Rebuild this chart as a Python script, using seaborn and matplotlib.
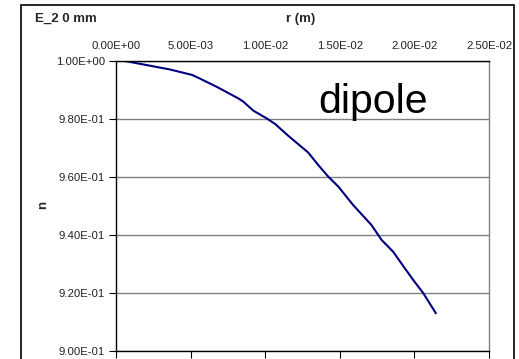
import matplotlib
matplotlib.use("Agg")
import matplotlib.pyplot as plt
import seaborn as sns
import pandas as pd
from matplotlib.patches import Rectangle
from matplotlib.ticker import FuncFormatter

r_m = [0.0006, 0.0036, 0.0051, 0.0056, 0.00675, 0.0082, 0.00853, 0.0092, 0.0101,
       0.01066, 0.01155, 0.01289, 0.01356, 0.01423, 0.0149, 0.0159, 0.01713,
       0.0178, 0.01858, 0.01925, 0.01992, 0.0206, 0.02144]
n_vals = [1.0, 0.9971, 0.9952, 0.9940, 0.9911, 0.9871, 0.9860, 0.9829, 0.9802,
          0.9783, 0.9742, 0.9684, 0.9641, 0.9601, 0.9567, 0.9503, 0.9434,
          0.9383, 0.9342, 0.9293, 0.9245, 0.9199, 0.9130]
x_ticks = [0.0, 0.005, 0.01, 0.015, 0.02, 0.025]
y_ticks = [0.90, 0.92, 0.94, 0.96, 0.98, 1.00]

sns.set_style("white")
plt.rcParams['font.family'] = ['Liberation Sans', 'DejaVu Sans']

W, H = 519, 359
fig = plt.figure(figsize=(W / 100, H / 100), dpi=100)
fig.patch.set_facecolor("white")

# outer chart border
fig.patches.append(Rectangle((21 / W, (H - 370) / H), (514 - 21) / W, 365 / H,
                             transform=fig.transFigure, fill=False,
                             edgecolor="black", linewidth=1.2, zorder=0))

ax = fig.add_axes([116 / W, (H - 351) / H, (489 - 116) / W, (351 - 61) / H])
df = pd.DataFrame({"r": r_m, "n": n_vals})
sns.lineplot(data=df, x="r", y="n", ax=ax, color="#000080", linewidth=1.5,
             sort=False, estimator=None)

ax.set_xlim(0, 0.025)
ax.set_ylim(0.90, 1.00)
ax.set_xticks(x_ticks)
ax.set_yticks(y_ticks)
fmt = FuncFormatter(lambda v, p: "%.2E" % v)
ax.xaxis.set_major_formatter(fmt)
ax.yaxis.set_major_formatter(fmt)
ax.tick_params(axis="x", bottom=True, top=False, labelbottom=False, labeltop=True,
               direction="out", length=5, width=0.8, labelsize=8.2, pad=2,
               color="black", labelcolor="#222222")
ax.tick_params(axis="y", left=True, direction="out", length=5, width=0.8,
               labelsize=8.2, pad=3, color="black", labelcolor="#222222")
ax.grid(axis="y", color="#808080", linewidth=1.0)
ax.grid(axis="x", visible=False)
for s in ["left", "bottom", "top"]:
    ax.spines[s].set_color("black")
    ax.spines[s].set_linewidth(1.0)
ax.spines["right"].set_color("#808080")
ax.spines["right"].set_linewidth(1.0)
ax.set_xlabel("")
ax.set_ylabel("")

ax.text((318 - 116) / 373, (351 - 113) / 290, "dipole", transform=ax.transAxes,
        fontsize=29.5, ha="left", va="baseline", color="black")

fig.text(35 / W, 1 - 19 / H, "E_2 0 mm", fontsize=9.5, fontweight="bold",
         ha="left", va="center")
fig.text(301 / W, 1 - 19 / H, "r (m)", fontsize=9.5, fontweight="bold",
         ha="center", va="center")
fig.text(43 / W, 1 - 205 / H, "n", fontsize=9.5, fontweight="bold",
         ha="center", va="center", rotation=90)

fig.savefig("out.png", dpi=100)
